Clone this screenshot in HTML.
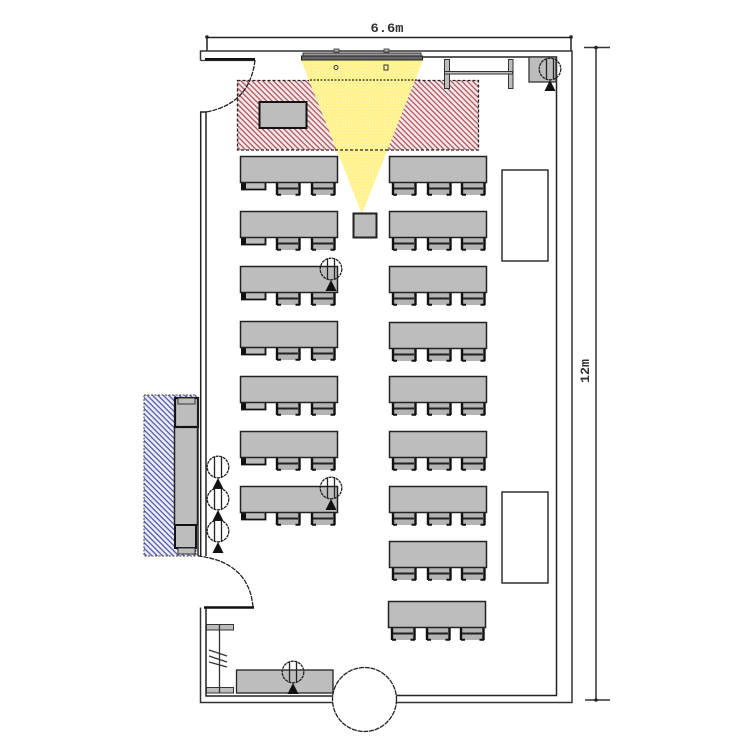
<!DOCTYPE html>
<html><head><meta charset="utf-8"><style>
html,body{margin:0;padding:0;background:#fff}
svg{display:block}
text{font-family:"Liberation Mono",monospace;font-weight:bold;font-size:12.500px;fill:#333}
</style></head><body>
<svg width="750" height="750" viewBox="0 0 750 750" xmlns="http://www.w3.org/2000/svg">
<defs>
<pattern id="red" width="3.800" height="3.800" patternUnits="userSpaceOnUse" patternTransform="rotate(45)">
<rect width="3.800" height="3.800" fill="#fde6e6"/>
<rect width="3.800" height="1.300" fill="#a85a64"/>
</pattern>
<pattern id="blue" width="3.800" height="3.800" patternUnits="userSpaceOnUse" patternTransform="rotate(45)">
<rect width="3.800" height="3.800" fill="#eceefa"/>
<rect width="3.800" height="1.300" fill="#555ba8"/>
</pattern>
<pattern id="yel" width="3" height="3" patternUnits="userSpaceOnUse">
<rect width="3" height="3" fill="#fff28a"/>
<rect width="1.500" height="1.500" fill="#fff6b4"/>
</pattern>
<g id="c1">
<rect x="1" y="26" width="25" height="8" fill="#bdbdbd"/>
<path d="M2 26V33.500H25.500V26" fill="none" stroke="#111" stroke-width="1.800"/>
<rect x="1" y="26" width="5" height="8" fill="#111"/>
</g>
<g id="c2">
<rect x="0" y="26" width="24" height="13" fill="#b4b4b4"/>
<path d="M2 32.500H22" stroke="#222" stroke-width="2"/>
<path d="M1 26V39M23.500 26V39" stroke="#111" stroke-width="2.400"/>
<path d="M1 38.700H5M19.500 38.700H24" stroke="#111" stroke-width="2"/>
</g>
<g id="tb">
<rect x="0.500" y="0.500" width="97" height="26" fill="#bdbdbd" stroke="#222" stroke-width="1.500"/>
</g>
<g id="lt">
<use href="#c1"/><use href="#c2" x="36"/><use href="#c2" x="71"/><use href="#tb"/>
</g>
<g id="rt">
<use href="#c2" x="3"/><use href="#c2" x="38"/><use href="#c2" x="72"/><use href="#tb"/>
</g>
<g id="cam">
<circle cx="0" cy="0" r="10.800" fill="none" stroke="#222" stroke-width="1.300" stroke-dasharray="3 0.700"/>
<path d="M-3.500 -10.500V10.500M3.500 -10.500V10.500" stroke="#222" stroke-width="1.300"/>
<path d="M0 11L-5.500 22H5.500Z" fill="#111"/>
</g>
</defs>

<rect x="237.500" y="80.500" width="241" height="69.500" fill="url(#red)" stroke="#222" stroke-width="1.300" stroke-dasharray="3 2"/>
<rect x="144" y="395" width="52" height="161" fill="url(#blue)" stroke="#444" stroke-width="1" stroke-dasharray="2 1.500"/>

<path d="M206.500 37.500H572M207 37V51M571 37V51" stroke="#222" stroke-width="1.500" fill="none"/>
<circle cx="207" cy="37" r="1.800" fill="#222"/><circle cx="571" cy="37" r="1.800" fill="#222"/>
<path d="M584 47.500H610M596 47V700M585 700H610" stroke="#333" stroke-width="1.500" fill="none"/>
<circle cx="596" cy="47.500" r="1.800" fill="#222"/><circle cx="596" cy="700" r="1.800" fill="#222"/>
<text x="387" y="32" text-anchor="middle" textLength="33" lengthAdjust="spacingAndGlyphs">6.6m</text>
<text transform="translate(589 371) rotate(-90)" text-anchor="middle" textLength="24" lengthAdjust="spacingAndGlyphs">12m</text>

<path d="M200.500 60.500V51H572V702.500H395M333 702.500H200.500V607.500" fill="none" stroke="#333" stroke-width="1.500"/>
<path d="M206 607.500V696H333M396 695.500H556.500V57H304" fill="none" stroke="#222" stroke-width="1.500"/>
<path d="M200.500 60.500H255" stroke="#333" stroke-width="1.200"/>
<path d="M205 59.200H255" stroke="#111" stroke-width="2.400"/>
<path d="M200.700 556V112H206V556" fill="none" stroke="#222" stroke-width="1.500"/>
<path d="M204 607.500H254" stroke="#111" stroke-width="2.400"/>
<path d="M255 60Q250 104 206 112" fill="none" stroke="#222" stroke-width="1.300" stroke-dasharray="5 1"/>
<path d="M253 607Q249 562 198 556" fill="none" stroke="#222" stroke-width="1.300" stroke-dasharray="5 1"/>

<rect x="259.500" y="102" width="47" height="26" fill="#bdbdbd" stroke="#111" stroke-width="2"/>

<use href="#lt" x="240" y="156"/>
<use href="#lt" x="240" y="211"/>
<use href="#lt" x="240" y="266"/>
<use href="#lt" x="240" y="321"/>
<use href="#lt" x="240" y="376"/>
<use href="#lt" x="240" y="431"/>
<use href="#lt" x="240" y="486"/>

<use href="#rt" x="389" y="156"/>
<use href="#rt" x="389" y="211"/>
<use href="#rt" x="389" y="266"/>
<use href="#rt" x="389" y="322"/>
<use href="#rt" x="389" y="376"/>
<use href="#rt" x="389" y="431"/>
<use href="#rt" x="389" y="486"/>
<use href="#rt" x="389" y="541"/>
<use href="#rt" x="388" y="601"/>

<path d="M301 60H423L362 214Z" fill="url(#yel)"/>
<path d="M310 80H420" stroke="#222" stroke-width="1.200" stroke-dasharray="2 1.500"/>
<path d="M335 150H389" stroke="#222" stroke-width="1.200" stroke-dasharray="3 2"/>
<rect x="303" y="53" width="118" height="3.500" fill="#999" stroke="#333" stroke-width="1"/>
<rect x="301.500" y="56" width="121" height="4" fill="#666" stroke="#222" stroke-width="1"/>
<rect x="334" y="49" width="5" height="3" fill="#aaa" stroke="#333" stroke-width="0.800"/>
<rect x="384" y="49" width="5" height="3" fill="#aaa" stroke="#333" stroke-width="0.800"/>
<circle cx="336" cy="67.500" r="2" fill="none" stroke="#333" stroke-width="1"/>
<rect x="384" y="65" width="4" height="5" fill="none" stroke="#333" stroke-width="1"/>

<rect x="353.500" y="213.500" width="23" height="24" fill="#bdbdbd" stroke="#222" stroke-width="2"/>

<rect x="502" y="170" width="46" height="91" fill="#fff" stroke="#222" stroke-width="1.400"/>
<rect x="502" y="492" width="46" height="91" fill="#fff" stroke="#222" stroke-width="1.400"/>

<rect x="444.500" y="59.500" width="5" height="29" fill="#bdbdbd" stroke="#333" stroke-width="1"/>
<rect x="508.500" y="59.500" width="4.500" height="29" fill="#bdbdbd" stroke="#333" stroke-width="1"/>
<rect x="444.500" y="71.500" width="68" height="2.500" fill="#bdbdbd" stroke="#333" stroke-width="1"/>

<rect x="529" y="57" width="27" height="25" fill="#bdbdbd" stroke="#333" stroke-width="1.300"/>
<use href="#cam" x="550" y="69"/>

<rect x="174.500" y="427" width="23" height="98" fill="#bdbdbd" stroke="#222" stroke-width="1.500"/>
<rect x="175" y="398" width="23" height="29" fill="#bdbdbd" stroke="#111" stroke-width="2.200"/>
<rect x="178" y="398" width="17" height="6" fill="#bdbdbd" stroke="#333" stroke-width="1"/>
<rect x="175" y="525" width="21" height="23" fill="#bdbdbd" stroke="#111" stroke-width="2"/>
<rect x="178" y="548" width="17" height="6" fill="#bdbdbd" stroke="#333" stroke-width="1"/>
<path d="M198 398V556" stroke="#222" stroke-width="1.500"/>

<use href="#cam" x="218" y="467"/>
<use href="#cam" x="218" y="499"/>
<use href="#cam" x="218" y="531"/>
<use href="#cam" x="331" y="269"/>
<use href="#cam" x="331" y="488"/>

<rect x="236.500" y="670" width="96.500" height="23" fill="#bdbdbd" stroke="#222" stroke-width="1.300"/>
<use href="#cam" x="293" y="672"/>

<rect x="206.500" y="624.500" width="27" height="5.500" fill="#bdbdbd" stroke="#333" stroke-width="1"/>
<rect x="206.500" y="687.500" width="27" height="5.500" fill="#bdbdbd" stroke="#333" stroke-width="1"/>
<path d="M219.500 624V693" stroke="#333" stroke-width="1.300"/>
<path d="M209 650L227 656M209 656L227 662M209 662L227 667" stroke="#333" stroke-width="1.200"/>

<circle cx="364.500" cy="699.500" r="32" fill="#fff" stroke="#222" stroke-width="1.300" stroke-dasharray="5 0.800"/>
</svg>
</body></html>
